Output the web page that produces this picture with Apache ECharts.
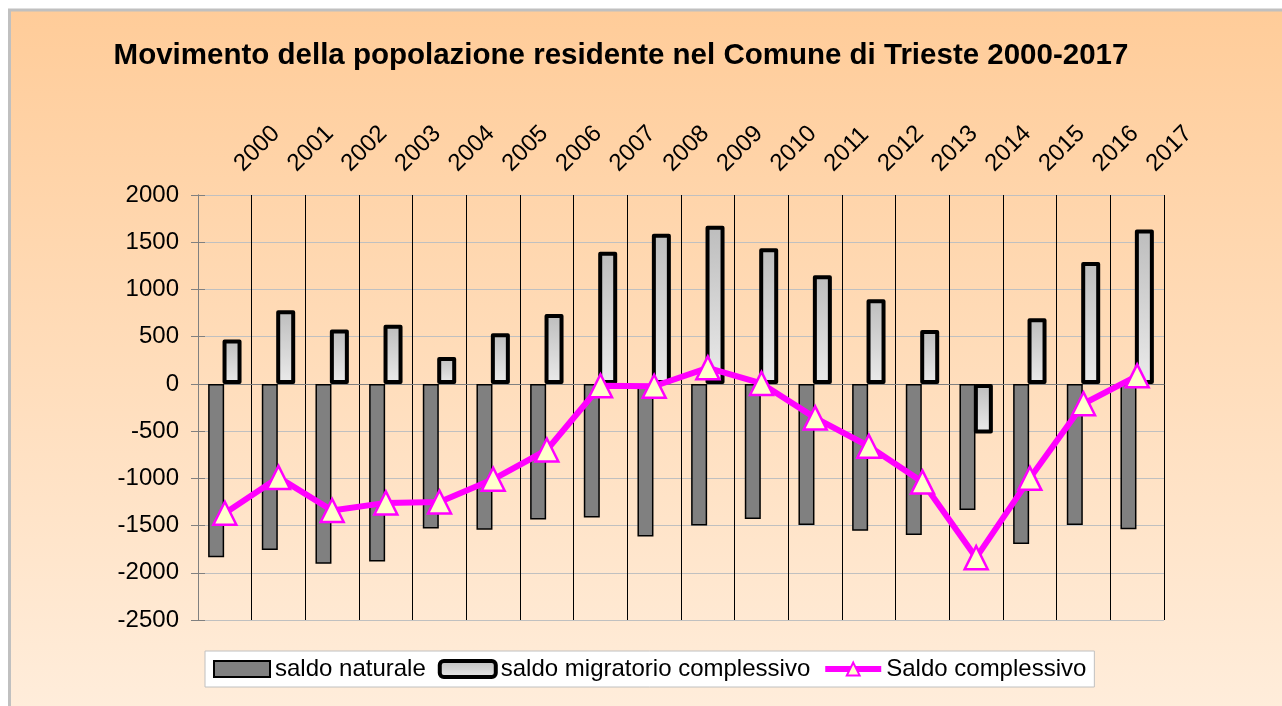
<!DOCTYPE html>
<html>
<head>
<meta charset="utf-8">
<script src="https://cdn.jsdelivr.net/npm/echarts@6/dist/echarts.min.js"></script>
<style>
html,body{margin:0;padding:0;background:#fff;}
#c{width:1282px;height:706px;}
</style>
</head>
<body>
<div id="c"></div>
<script>
var years = ['2000','2001','2002','2003','2004','2005','2006','2007','2008','2009','2010','2011','2012','2013','2014','2015','2016','2017'];
var saldoNaturale = [-1835,-1760,-1905,-1880,-1530,-1545,-1435,-1415,-1615,-1500,-1430,-1495,-1555,-1600,-1335,-1695,-1495,-1540];
var saldoMigratorio = [470,780,575,625,285,535,740,1400,1590,1675,1435,1150,895,570,-525,695,1290,1635];
var saldoComplessivo = [-1370,-990,-1340,-1260,-1250,-1010,-700,-20,-25,170,5,-360,-660,-1040,-1840,-1000,-210,85];
var seriesNames = ['saldo naturale','saldo migratorio complessivo','Saldo complessivo'];
var titleText = 'Movimento della popolazione residente nel Comune di Trieste 2000-2017';

var FONT = '"Liberation Sans", Arial, sans-serif';
var chart = echarts.init(document.getElementById('c'), null, {renderer:'canvas'});
var lightGrad = new echarts.graphic.LinearGradient(0,0,0,1,[{offset:0,color:'#bdbdbd'},{offset:1,color:'#ebebeb'}]);
var option = {
  animation:false,
  backgroundColor:'#ffffff',
  graphic:[{
    type:'rect', z:-100, silent:true,
    shape:{x:9.5,y:10,width:1300,height:720},
    style:{
      fill:new echarts.graphic.LinearGradient(0,0,0,1,[{offset:0,color:'#FFCC99'},{offset:1,color:'#FFEEDD'}]),
      stroke:'#c0c0c0', lineWidth:3
    }
  }],
  title:{
    text:titleText, left:621, top:41, textAlign:'center', padding:0,
    textStyle:{fontFamily:FONT,fontSize:29.5,fontWeight:'bold',color:'#000'}
  },
  legend:{
    data:[
      {name:seriesNames[0], icon:'rect', itemStyle:{borderColor:'#000', borderWidth:2}},
      {name:seriesNames[1], icon:'roundRect', itemStyle:{borderColor:'#000', borderWidth:4}},
      {name:seriesNames[2], lineStyle:{width:6}}
    ],
    left:205, top:651, orient:'horizontal',
    itemWidth:56, itemHeight:16, itemGap:12, padding:[6,8,6,8],
    backgroundColor:'#ffffff', borderColor:'#c0c0c0', borderWidth:1,
    textStyle:{fontFamily:FONT,fontSize:24,color:'#000'}
  },
  grid:{left:198,right:118,top:195,bottom:86,containLabel:false},
  xAxis:[{
    type:'category', data:years, position:'top',
    axisLine:{show:false,onZero:false}, axisTick:{show:false},
    axisLabel:{interval:0, rotate:-45, margin:14, padding:[0,0,0,19], fontFamily:FONT, fontSize:24, color:'#000'},
    splitLine:{show:true, interval:0, lineStyle:{color:'#000',width:1}}
  },{
    type:'category', data:years, position:'bottom',
    axisLine:{show:true,onZero:true,lineStyle:{color:'#808080',width:1}},
    axisTick:{show:false}, axisLabel:{show:false}, splitLine:{show:false}
  }],
  yAxis:[{
    type:'value', min:-2500, max:2000, interval:500, position:'left',
    axisLine:{show:true,lineStyle:{color:'#808080',width:1}},
    axisTick:{show:true,length:7,lineStyle:{color:'#808080'}},
    axisLabel:{margin:19, fontFamily:FONT, fontSize:24, color:'#000', formatter:function(v){return String(v);}},
    splitLine:{show:true,lineStyle:{color:'#c0c0c0',width:1}}
  },{
    type:'value', min:-2500, max:2000, interval:500, position:'right', offset:-966, z:5,
    axisLine:{show:true,lineStyle:{color:'#808080',width:1}},
    axisTick:{show:true,length:7,lineStyle:{color:'#808080'}},
    axisLabel:{show:false}, splitLine:{show:false}
  }],
  series:[{
    name:seriesNames[0], type:'bar', data:saldoNaturale, barWidth:16, barGap:'-10%',
    itemStyle:{color:'#808080', borderColor:'#000', borderWidth:1.5}
  },{
    name:seriesNames[1], type:'bar', data:saldoMigratorio, barWidth:19, barGap:'-10%',
    itemStyle:{color:lightGrad, borderColor:'#000', borderWidth:4, borderJoin:'round'}
  },{
    name:seriesNames[2], type:'line', data:saldoComplessivo, z:5,
    symbol:'triangle', symbolSize:[23,23], showAllSymbol:true,
    lineStyle:{color:'#FF00FF', width:6},
    itemStyle:{color:'#FFFFCC', borderColor:'#FF00FF', borderWidth:2.5}
  }]
};
chart.setOption(option);
</script>
</body>
</html>
